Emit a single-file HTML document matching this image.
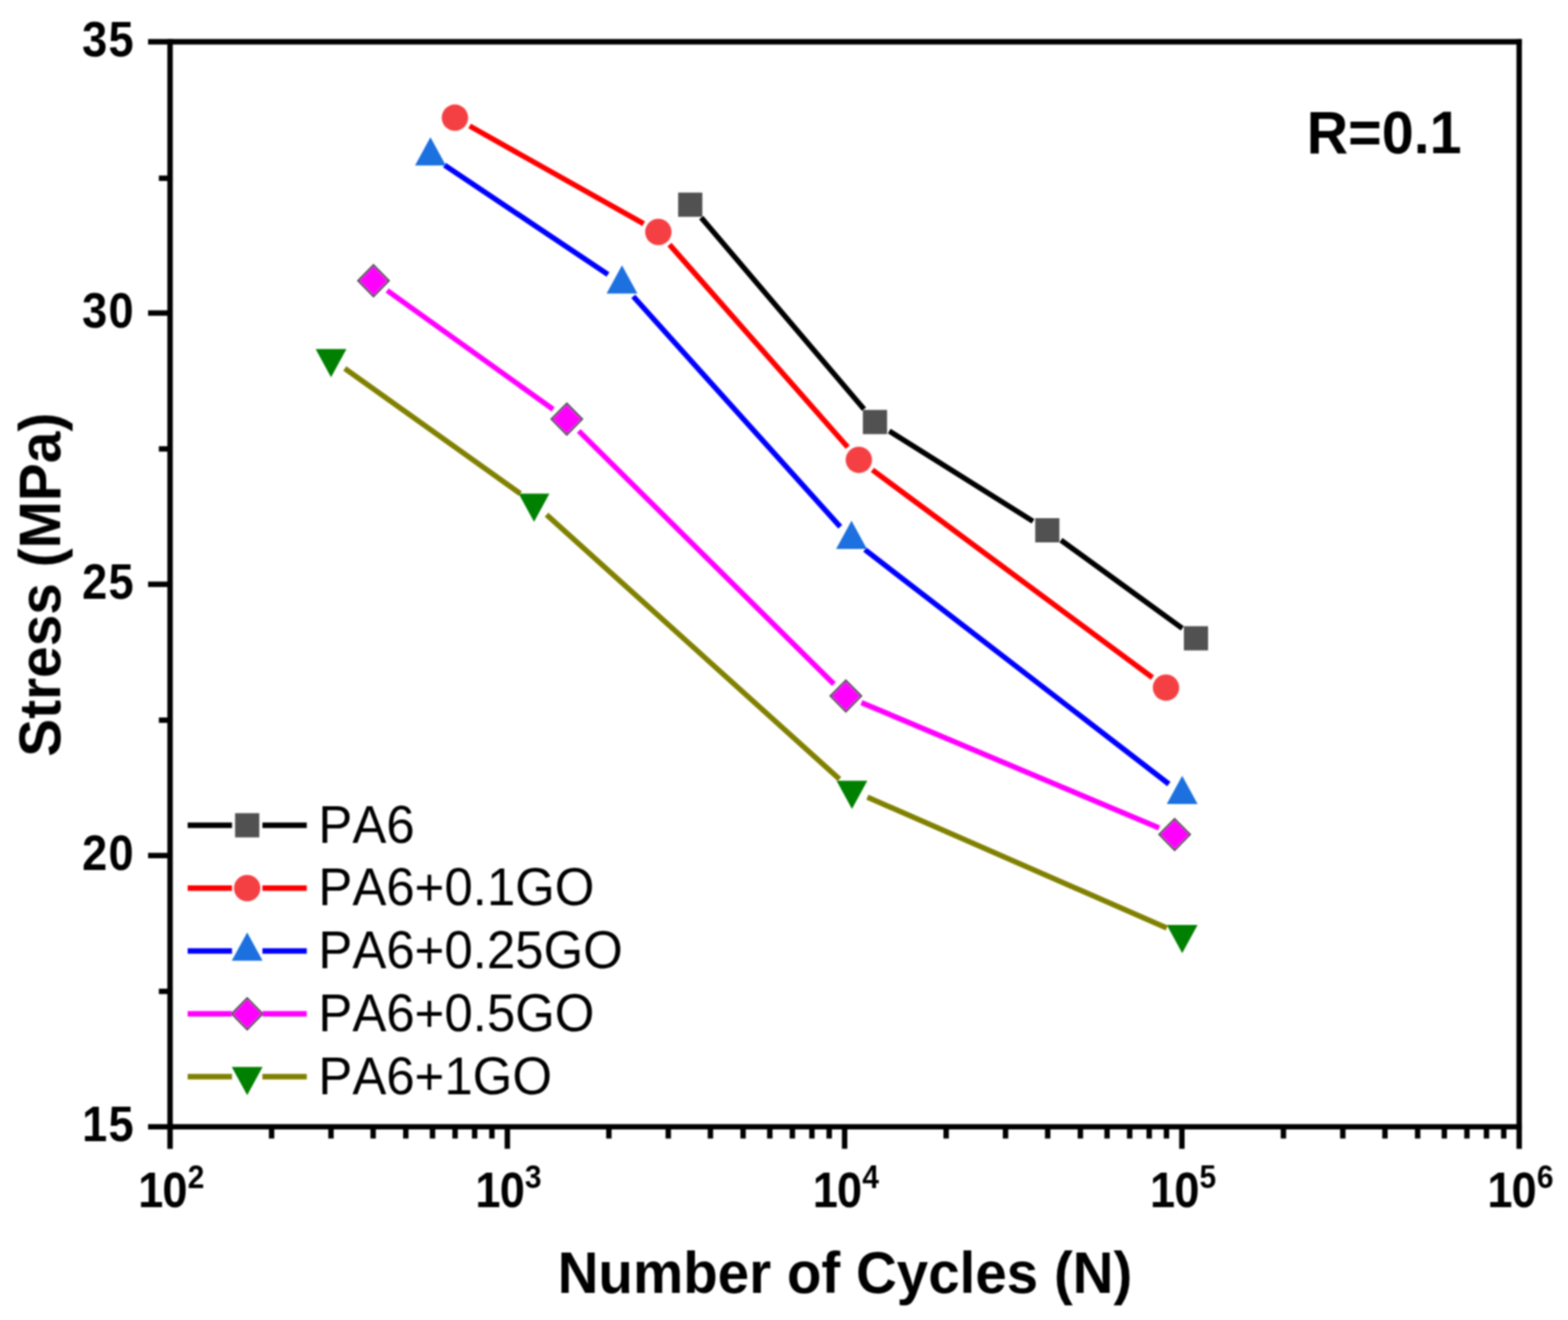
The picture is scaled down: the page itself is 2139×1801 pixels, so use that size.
<!DOCTYPE html>
<html lang="en">
<head>
<meta charset="utf-8">
<title>S-N curves: Stress vs Number of Cycles</title>
<style>
html,body{margin:0;padding:0;background:#fff;}
body{width:2139px;height:1801px;overflow:hidden;}
svg{display:block;}
text{font-family:"Liberation Sans",sans-serif;fill:#000;font-kerning:none;}
.b{font-weight:bold;}
</style>
</head>
<body>
<svg width="2139" height="1801" viewBox="0 0 2139 1801">
<defs><filter id="soft" x="0" y="0" width="2139" height="1801" filterUnits="userSpaceOnUse"><feGaussianBlur stdDeviation="0.90"/></filter></defs>
<rect x="0" y="0" width="2139" height="1801" fill="#fff"/>
<g filter="url(#soft)">
<g stroke="#000" stroke-width="7.40" fill="none" stroke-linecap="butt">
<line x1="202.00" y1="57.00" x2="2076.10" y2="57.00"/>
<line x1="202.00" y1="1537.40" x2="2076.10" y2="1537.40"/>
<line x1="232.00" y1="53.30" x2="232.00" y2="1567.40"/>
<line x1="2072.40" y1="53.30" x2="2072.40" y2="1567.40"/>
<line x1="202.00" y1="427.10" x2="232.00" y2="427.10"/>
<line x1="202.00" y1="797.20" x2="232.00" y2="797.20"/>
<line x1="202.00" y1="1167.30" x2="232.00" y2="1167.30"/>
<line x1="216.70" y1="243.20" x2="232.00" y2="243.20"/>
<line x1="216.70" y1="612.50" x2="232.00" y2="612.50"/>
<line x1="216.70" y1="982.60" x2="232.00" y2="982.60"/>
<line x1="216.70" y1="1352.60" x2="232.00" y2="1352.60"/>
<line x1="692.10" y1="1537.40" x2="692.10" y2="1567.40"/>
<line x1="1152.20" y1="1537.40" x2="1152.20" y2="1567.40"/>
<line x1="1612.30" y1="1537.40" x2="1612.30" y2="1567.40"/>
<line x1="370.50" y1="1537.40" x2="370.50" y2="1553.40"/>
<line x1="451.52" y1="1537.40" x2="451.52" y2="1553.40"/>
<line x1="509.01" y1="1537.40" x2="509.01" y2="1553.40"/>
<line x1="553.60" y1="1537.40" x2="553.60" y2="1553.40"/>
<line x1="590.03" y1="1537.40" x2="590.03" y2="1553.40"/>
<line x1="620.83" y1="1537.40" x2="620.83" y2="1553.40"/>
<line x1="647.51" y1="1537.40" x2="647.51" y2="1553.40"/>
<line x1="671.05" y1="1537.40" x2="671.05" y2="1553.40"/>
<line x1="830.60" y1="1537.40" x2="830.60" y2="1553.40"/>
<line x1="911.62" y1="1537.40" x2="911.62" y2="1553.40"/>
<line x1="969.11" y1="1537.40" x2="969.11" y2="1553.40"/>
<line x1="1013.70" y1="1537.40" x2="1013.70" y2="1553.40"/>
<line x1="1050.13" y1="1537.40" x2="1050.13" y2="1553.40"/>
<line x1="1080.93" y1="1537.40" x2="1080.93" y2="1553.40"/>
<line x1="1107.61" y1="1537.40" x2="1107.61" y2="1553.40"/>
<line x1="1131.15" y1="1537.40" x2="1131.15" y2="1553.40"/>
<line x1="1290.70" y1="1537.40" x2="1290.70" y2="1553.40"/>
<line x1="1371.72" y1="1537.40" x2="1371.72" y2="1553.40"/>
<line x1="1429.21" y1="1537.40" x2="1429.21" y2="1553.40"/>
<line x1="1473.80" y1="1537.40" x2="1473.80" y2="1553.40"/>
<line x1="1510.23" y1="1537.40" x2="1510.23" y2="1553.40"/>
<line x1="1541.03" y1="1537.40" x2="1541.03" y2="1553.40"/>
<line x1="1567.71" y1="1537.40" x2="1567.71" y2="1553.40"/>
<line x1="1591.25" y1="1537.40" x2="1591.25" y2="1553.40"/>
<line x1="1750.80" y1="1537.40" x2="1750.80" y2="1553.40"/>
<line x1="1831.82" y1="1537.40" x2="1831.82" y2="1553.40"/>
<line x1="1889.31" y1="1537.40" x2="1889.31" y2="1553.40"/>
<line x1="1933.90" y1="1537.40" x2="1933.90" y2="1553.40"/>
<line x1="1970.33" y1="1537.40" x2="1970.33" y2="1553.40"/>
<line x1="2001.13" y1="1537.40" x2="2001.13" y2="1553.40"/>
<line x1="2027.81" y1="1537.40" x2="2027.81" y2="1553.40"/>
<line x1="2051.35" y1="1537.40" x2="2051.35" y2="1553.40"/>
</g>
<text class="b" transform="translate(184.20,76.60) scale(0.9000,1)" font-size="68.50" text-anchor="end" letter-spacing="2.00">35</text>
<text class="b" transform="translate(184.20,446.70) scale(0.9000,1)" font-size="68.50" text-anchor="end" letter-spacing="2.00">30</text>
<text class="b" transform="translate(184.20,816.80) scale(0.9000,1)" font-size="68.50" text-anchor="end" letter-spacing="2.00">25</text>
<text class="b" transform="translate(184.20,1186.90) scale(0.9000,1)" font-size="68.50" text-anchor="end" letter-spacing="2.00">20</text>
<text class="b" transform="translate(184.20,1557.00) scale(0.9000,1)" font-size="68.50" text-anchor="end" letter-spacing="2.00">15</text>
<text class="b" transform="translate(188.50,1647.20) scale(0.9000,1)" font-size="68.50" text-anchor="start" letter-spacing="-1.30">10</text>
<text class="b" transform="translate(256.00,1620.60) scale(0.9200,1)" font-size="44.50" text-anchor="start">2</text>
<text class="b" transform="translate(648.60,1647.20) scale(0.9000,1)" font-size="68.50" text-anchor="start" letter-spacing="-1.30">10</text>
<text class="b" transform="translate(716.10,1620.60) scale(0.9200,1)" font-size="44.50" text-anchor="start">3</text>
<text class="b" transform="translate(1108.70,1647.20) scale(0.9000,1)" font-size="68.50" text-anchor="start" letter-spacing="-1.30">10</text>
<text class="b" transform="translate(1176.20,1620.60) scale(0.9200,1)" font-size="44.50" text-anchor="start">4</text>
<text class="b" transform="translate(1568.80,1647.20) scale(0.9000,1)" font-size="68.50" text-anchor="start" letter-spacing="-1.30">10</text>
<text class="b" transform="translate(1636.30,1620.60) scale(0.9200,1)" font-size="44.50" text-anchor="start">5</text>
<text class="b" transform="translate(2028.90,1647.20) scale(0.9000,1)" font-size="68.50" text-anchor="start" letter-spacing="-1.30">10</text>
<text class="b" transform="translate(2096.40,1620.60) scale(0.9200,1)" font-size="44.50" text-anchor="start">6</text>
<text class="b" transform="translate(1152.70,1763.60) scale(0.9580,1)" font-size="80.50" text-anchor="middle">Number of Cycles (N)</text>
<text class="b" transform="translate(82.00,797.80) rotate(-90) scale(0.9630,1)" font-size="80.50" text-anchor="middle">Stress (MPa)</text>
<text class="b" transform="translate(1782.50,208.60) scale(0.9560,1)" font-size="82.00" text-anchor="start">R=0.1</text>
<g>
<line x1="956.50" y1="296.83" x2="1178.70" y2="558.27" stroke="#000" stroke-width="7.30"/>
<line x1="1213.08" y1="588.04" x2="1409.22" y2="711.26" stroke="#000" stroke-width="7.30"/>
<line x1="1447.30" y1="737.02" x2="1612.90" y2="857.38" stroke="#000" stroke-width="7.30"/>
<rect x="925.10" y="262.80" width="33.00" height="33.00" fill="#515151"/>
<rect x="1177.10" y="559.30" width="33.00" height="33.00" fill="#515151"/>
<rect x="1412.20" y="707.00" width="33.00" height="33.00" fill="#515151"/>
<rect x="1615.00" y="854.40" width="33.00" height="33.00" fill="#515151"/>
</g>
<g>
<line x1="640.65" y1="171.87" x2="878.05" y2="305.23" stroke="#ff0000" stroke-width="7.30"/>
<line x1="913.29" y1="333.77" x2="1156.41" y2="610.13" stroke="#ff0000" stroke-width="7.30"/>
<line x1="1190.07" y1="641.10" x2="1572.13" y2="924.50" stroke="#ff0000" stroke-width="7.30"/>
<circle cx="620.60" cy="160.60" r="18" fill="#f44043"/>
<circle cx="898.10" cy="316.50" r="18" fill="#f44043"/>
<circle cx="1171.60" cy="627.40" r="18" fill="#f44043"/>
<circle cx="1590.60" cy="938.20" r="18" fill="#f44043"/>
</g>
<g>
<line x1="606.32" y1="225.29" x2="829.38" y2="374.51" stroke="#0000ff" stroke-width="7.30"/>
<line x1="863.87" y1="404.41" x2="1146.23" y2="718.79" stroke="#0000ff" stroke-width="7.30"/>
<line x1="1179.81" y1="749.95" x2="1594.49" y2="1069.75" stroke="#0000ff" stroke-width="7.30"/>
<polygon points="587.20,187.20 608.20,225.70 566.20,225.70" fill="#1a6fdf"/>
<polygon points="848.50,362.00 869.50,400.50 827.50,400.50" fill="#1a6fdf"/>
<polygon points="1161.60,710.60 1182.60,749.10 1140.60,749.10" fill="#1a6fdf"/>
<polygon points="1612.70,1058.50 1633.70,1097.00 1591.70,1097.00" fill="#1a6fdf"/>
</g>
<g>
<line x1="528.20" y1="396.39" x2="754.50" y2="558.41" stroke="#ff00ff" stroke-width="7.30"/>
<line x1="789.53" y1="588.00" x2="1137.57" y2="933.40" stroke="#ff00ff" stroke-width="7.30"/>
<line x1="1175.09" y1="958.53" x2="1581.21" y2="1129.67" stroke="#ff00ff" stroke-width="7.30"/>
<polygon points="509.50,361.70 530.50,383.00 509.50,404.30 488.50,383.00" fill="#ff00ff" stroke="#5c545c" stroke-width="2.6"/>
<polygon points="773.20,550.50 794.20,571.80 773.20,593.10 752.20,571.80" fill="#ff00ff" stroke="#5c545c" stroke-width="2.6"/>
<polygon points="1153.90,928.30 1174.90,949.60 1153.90,970.90 1132.90,949.60" fill="#ff00ff" stroke="#5c545c" stroke-width="2.6"/>
<polygon points="1602.40,1117.30 1623.40,1138.60 1602.40,1159.90 1581.40,1138.60" fill="#ff00ff" stroke="#5c545c" stroke-width="2.6"/>
</g>
<g>
<line x1="470.33" y1="502.75" x2="709.77" y2="673.45" stroke="#808000" stroke-width="7.30"/>
<line x1="745.57" y1="702.21" x2="1145.13" y2="1062.99" stroke="#808000" stroke-width="7.30"/>
<line x1="1183.27" y1="1087.61" x2="1591.63" y2="1266.09" stroke="#808000" stroke-width="7.30"/>
<polygon points="451.60,514.70 472.60,476.20 430.60,476.20" fill="#008000"/>
<polygon points="728.50,712.10 749.50,673.60 707.50,673.60" fill="#008000"/>
<polygon points="1162.20,1103.70 1183.20,1065.20 1141.20,1065.20" fill="#008000"/>
<polygon points="1612.70,1300.60 1633.70,1262.10 1591.70,1262.10" fill="#008000"/>
</g>
<line x1="256" y1="1126.00" x2="316.5" y2="1126.00" stroke="#000" stroke-width="7.30"/>
<line x1="358" y1="1126.00" x2="418.5" y2="1126.00" stroke="#000" stroke-width="7.30"/>
<rect x="320.70" y="1109.50" width="33.00" height="33.00" fill="#515151"/>
<text transform="translate(434.30,1149.50) scale(0.9650,1)" font-size="72.00" text-anchor="start">PA6</text>
<line x1="256" y1="1211.75" x2="316.5" y2="1211.75" stroke="#ff0000" stroke-width="7.30"/>
<line x1="358" y1="1211.75" x2="418.5" y2="1211.75" stroke="#ff0000" stroke-width="7.30"/>
<circle cx="337.20" cy="1211.75" r="18" fill="#f44043"/>
<text transform="translate(434.30,1235.25) scale(0.9650,1)" font-size="72.00" text-anchor="start">PA6+0.1GO</text>
<line x1="256" y1="1297.50" x2="316.5" y2="1297.50" stroke="#0000ff" stroke-width="7.30"/>
<line x1="358" y1="1297.50" x2="418.5" y2="1297.50" stroke="#0000ff" stroke-width="7.30"/>
<polygon points="337.20,1272.20 358.20,1310.70 316.20,1310.70" fill="#1a6fdf"/>
<text transform="translate(434.30,1321.00) scale(0.9650,1)" font-size="72.00" text-anchor="start">PA6+0.25GO</text>
<line x1="256" y1="1383.25" x2="316.5" y2="1383.25" stroke="#ff00ff" stroke-width="7.30"/>
<line x1="358" y1="1383.25" x2="418.5" y2="1383.25" stroke="#ff00ff" stroke-width="7.30"/>
<polygon points="337.20,1361.95 358.20,1383.25 337.20,1404.55 316.20,1383.25" fill="#ff00ff" stroke="#5c545c" stroke-width="2.6"/>
<text transform="translate(434.30,1406.75) scale(0.9650,1)" font-size="72.00" text-anchor="start">PA6+0.5GO</text>
<line x1="256" y1="1469.00" x2="316.5" y2="1469.00" stroke="#808000" stroke-width="7.30"/>
<line x1="358" y1="1469.00" x2="418.5" y2="1469.00" stroke="#808000" stroke-width="7.30"/>
<polygon points="337.20,1494.30 358.20,1455.80 316.20,1455.80" fill="#008000"/>
<text transform="translate(434.30,1492.50) scale(0.9650,1)" font-size="72.00" text-anchor="start">PA6+1GO</text>
</g>
</svg>
</body>
</html>
